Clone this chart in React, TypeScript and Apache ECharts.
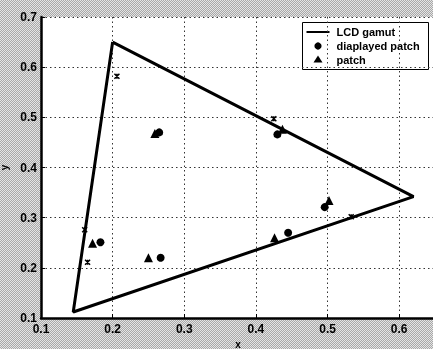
import React, { useEffect, useRef } from "react";
import * as echarts from "echarts";

const gamutX = [0.2, 0.62, 0.145, 0.2];
const gamutY = [0.65, 0.342, 0.112, 0.65];

const displayedX = [0.265, 0.43, 0.496, 0.445, 0.267, 0.183];
const displayedY = [0.47, 0.466, 0.321, 0.27, 0.22, 0.251];

const patchX = [0.259, 0.437, 0.502, 0.426, 0.25, 0.172];
const patchY = [0.468, 0.476, 0.334, 0.26, 0.22, 0.249];

const crossX = [0.206, 0.425, 0.165, 0.161, 0.533];
const crossY = [0.582, 0.497, 0.211, 0.276, 0.302];

const seriesNames = ["LCD gamut", "diaplayed patch", "patch"];

const zip = (xs: number[], ys: number[]) => xs.map((x, i) => [x, ys[i]]);

export default function App() {
  const ref = useRef<HTMLDivElement>(null);
  useEffect(() => {
    if (!ref.current) return;
    const chart = echarts.init(ref.current, null, { renderer: "svg" });
    const font = "'Liberation Sans', Arial, sans-serif";
    const lblStyle = { fontFamily: font, fontWeight: "bold", fontSize: 11, fill: "#000" };
    chart.setOption({
      animation: false,
      backgroundColor: "transparent",
      grid: {
        left: 41,
        top: 17,
        width: 394,
        height: 301,
        containLabel: false,
        outerBoundsMode: "none",
        show: true,
        backgroundColor: "#ffffff",
        borderWidth: 0,
      },
      graphic: [
        {
          type: "group",
          left: 302,
          top: 22,
          z: 100,
          children: [
            { type: "rect", shape: { x: 0, y: 0, width: 126, height: 47 }, style: { fill: "#fff", stroke: "#000", lineWidth: 1 } },
            { type: "line", shape: { x1: 4, y1: 9.5, x2: 27, y2: 9.5 }, style: { stroke: "#000", lineWidth: 2 } },
            { type: "circle", shape: { cx: 15.5, cy: 23.5, r: 3.6 }, style: { fill: "#000" } },
            { type: "polygon", shape: { points: [[15.5, 33], [20, 40], [11, 40]] }, style: { fill: "#000" } },
            { type: "text", x: 34, y: 9.5, style: { ...lblStyle, text: seriesNames[0], verticalAlign: "middle" } },
            { type: "text", x: 34, y: 23.5, style: { ...lblStyle, text: seriesNames[1], verticalAlign: "middle" } },
            { type: "text", x: 34, y: 37.5, style: { ...lblStyle, text: seriesNames[2], verticalAlign: "middle" } },
          ],
        },
      ],
      xAxis: {
        type: "value",
        min: 0.1,
        max: 0.65,
        interval: 0.1,
        name: "x",
        nameLocation: "middle",
        nameGap: 17,
        nameTextStyle: { fontFamily: font, fontWeight: "bold", fontSize: 10, color: "#000", lineHeight: 10 },
        axisLine: { show: true, onZero: false, lineStyle: { color: "#000", width: 2.5 } },
        axisTick: { show: true, inside: true, length: 4, lineStyle: { color: "#000" } },
        axisLabel: {
          margin: 5,
          showMaxLabel: false,
          fontFamily: font,
          fontWeight: "bold",
          fontSize: 12,
          color: "#000",
          formatter: (v: number) => v.toFixed(1),
        },
        splitLine: { show: true, lineStyle: { color: "#333", width: 1, type: [1.5, 3] } },
      },
      yAxis: {
        type: "value",
        min: 0.1,
        max: 0.7,
        interval: 0.1,
        name: "y",
        nameLocation: "middle",
        nameGap: 27,
        nameTextStyle: { fontFamily: font, fontWeight: "bold", fontSize: 10, color: "#000", lineHeight: 10 },
        axisLine: { show: true, onZero: false, lineStyle: { color: "#000", width: 2.5 } },
        axisTick: { show: true, inside: true, length: 4, lineStyle: { color: "#000" } },
        axisLabel: {
          margin: 4,
          fontFamily: font,
          fontWeight: "bold",
          fontSize: 12,
          color: "#000",
          formatter: (v: number) => v.toFixed(1),
        },
        splitLine: { show: true, lineStyle: { color: "#333", width: 1, type: [1.5, 3] } },
      },
      series: [
        {
          name: seriesNames[0],
          type: "line",
          data: zip(gamutX, gamutY),
          symbol: "none",
          lineStyle: { color: "#000", width: 3 },
          itemStyle: { color: "#000" },
          z: 3,
        },
        {
          name: seriesNames[1],
          type: "scatter",
          data: zip(displayedX, displayedY),
          symbol: "circle",
          symbolSize: 8,
          itemStyle: { color: "#000", opacity: 1 },
          z: 4,
        },
        {
          name: seriesNames[2],
          type: "scatter",
          data: zip(patchX, patchY),
          symbol: "triangle",
          symbolSize: 9,
          itemStyle: { color: "#000", opacity: 1 },
          z: 4,
        },
        {
          name: "primaries",
          type: "scatter",
          data: zip(crossX, crossY),
          symbol: "path://M0,0L10,10M10,0L0,10M5,0L5,10",
          symbolSize: 5,
          itemStyle: { color: "#000", borderColor: "#000", borderWidth: 1.5, opacity: 1 },
          z: 4,
        },
      ],
    });
    return () => chart.dispose();
  }, []);
  return (
    <div
      style={{
        position: "fixed",
        left: 0,
        top: 0,
        width: 433,
        height: 349,
        background: "repeating-conic-gradient(#a8a8a8 0 25%, #e4e4e4 0 50%) 0 0 / 2px 2px",
      }}
    >
      <div ref={ref} style={{ width: 433, height: 349 }} />
    </div>
  );
}
